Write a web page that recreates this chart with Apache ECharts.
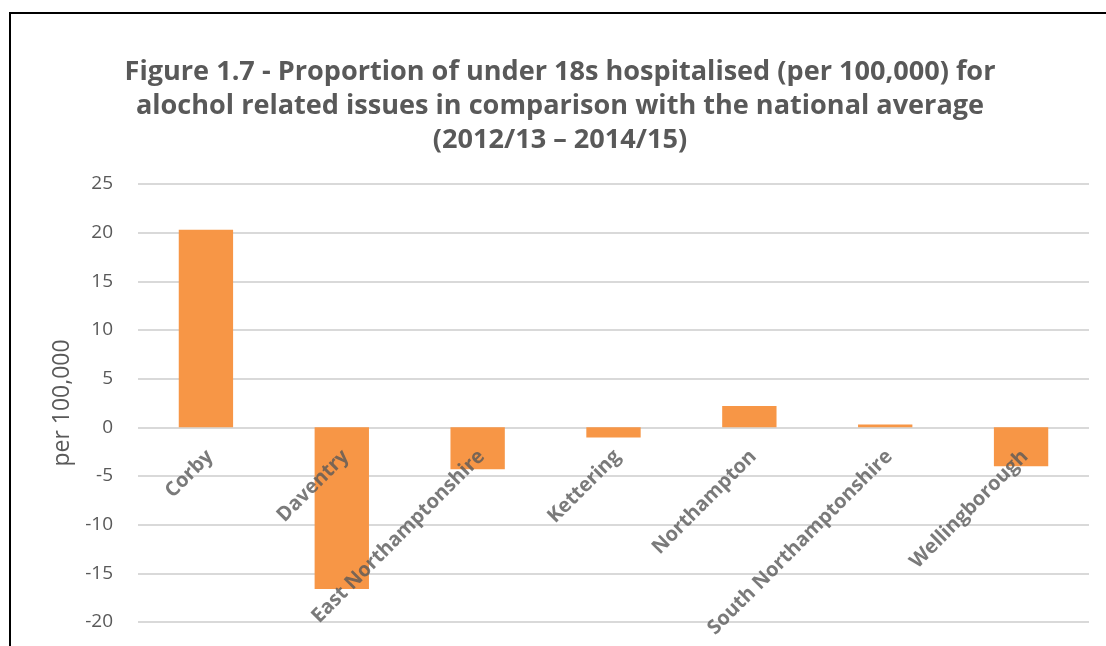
<!DOCTYPE html>
<html>
<head>
<meta charset="utf-8">
<script src="https://cdn.jsdelivr.net/npm/echarts@6/dist/echarts.min.js"></script>
<style>
html,body{margin:0;padding:0;background:#fff;overflow:hidden;}
#chart{position:absolute;left:0;top:0;width:1106px;height:646px;}
#frame{position:absolute;left:9px;top:12px;width:1200px;height:1000px;border-top:2px solid #000;border-left:2px solid #000;pointer-events:none;}
</style>
</head>
<body>
<div id="chart"></div>
<div id="frame"></div>
<script>
const categories = ["Corby", "Daventry", "East Northamptonshire", "Kettering", "Northampton", "South Northamptonshire", "Wellingborough"];
const values = [20.3, -16.6, -4.3, -1.05, 2.2, 0.3, -4.0];
const titleText = "Figure 1.7 - Proportion of under 18s hospitalised (per 100,000) for\nalochol related issues in comparison with the national average\n(2012/13 \u2013 2014/15)";
const yAxisName = "per 100,000";

const FONT = 'Open Sans';
// category labels sit on the zero line (as in the original), drawn via a scatter at y = 0
const labelAnchors = categories.map(c => [c, 0]);

const chart = echarts.init(document.getElementById('chart'), null, {renderer: 'canvas'});
chart.setOption({
  animation: false,
  textStyle: {fontFamily: FONT},
  title: {
    text: titleText,
    left: 560,
    top: 55,
    padding: 0,
    textAlign: 'center',
    textStyle: {fontFamily: FONT, fontWeight: 'bold', fontSize: 27.1, color: '#595959', lineHeight: 34}
  },
  grid: {left: 138, right: 17, top: 184, bottom: 24, containLabel: false, outerBoundsMode: 'none'},
  xAxis: {
    type: 'category',
    data: categories,
    axisLine: {show: false},
    axisTick: {show: false},
    axisLabel: {show: false}
  },
  yAxis: {
    type: 'value',
    min: -20, max: 25, interval: 5,
    name: yAxisName,
    nameLocation: 'middle',
    nameGap: 60,
    nameTextStyle: {fontFamily: FONT, fontSize: 23, color: '#595959'},
    axisLine: {show: false},
    axisTick: {show: false},
    axisLabel: {fontFamily: FONT, fontSize: 19, color: '#595959', margin: 25},
    splitLine: {lineStyle: {color: '#d9d9d9', width: 2}}
  },
  series: [{
    type: 'bar',
    data: values,
    barWidth: '40%',
    itemStyle: {color: '#F79646'}
  }, {
    type: 'scatter',
    data: labelAnchors,
    symbolSize: 0,
    silent: true,
    z: 5,
    label: {
      show: true,
      formatter: p => p.data[0],
      position: [4, 26],
      rotate: 45,
      align: 'right',
      verticalAlign: 'middle',
      fontFamily: FONT,
      fontWeight: 'bold',
      fontSize: 20,
      color: '#595959'
    }
  }]
});
</script>
</body>
</html>
